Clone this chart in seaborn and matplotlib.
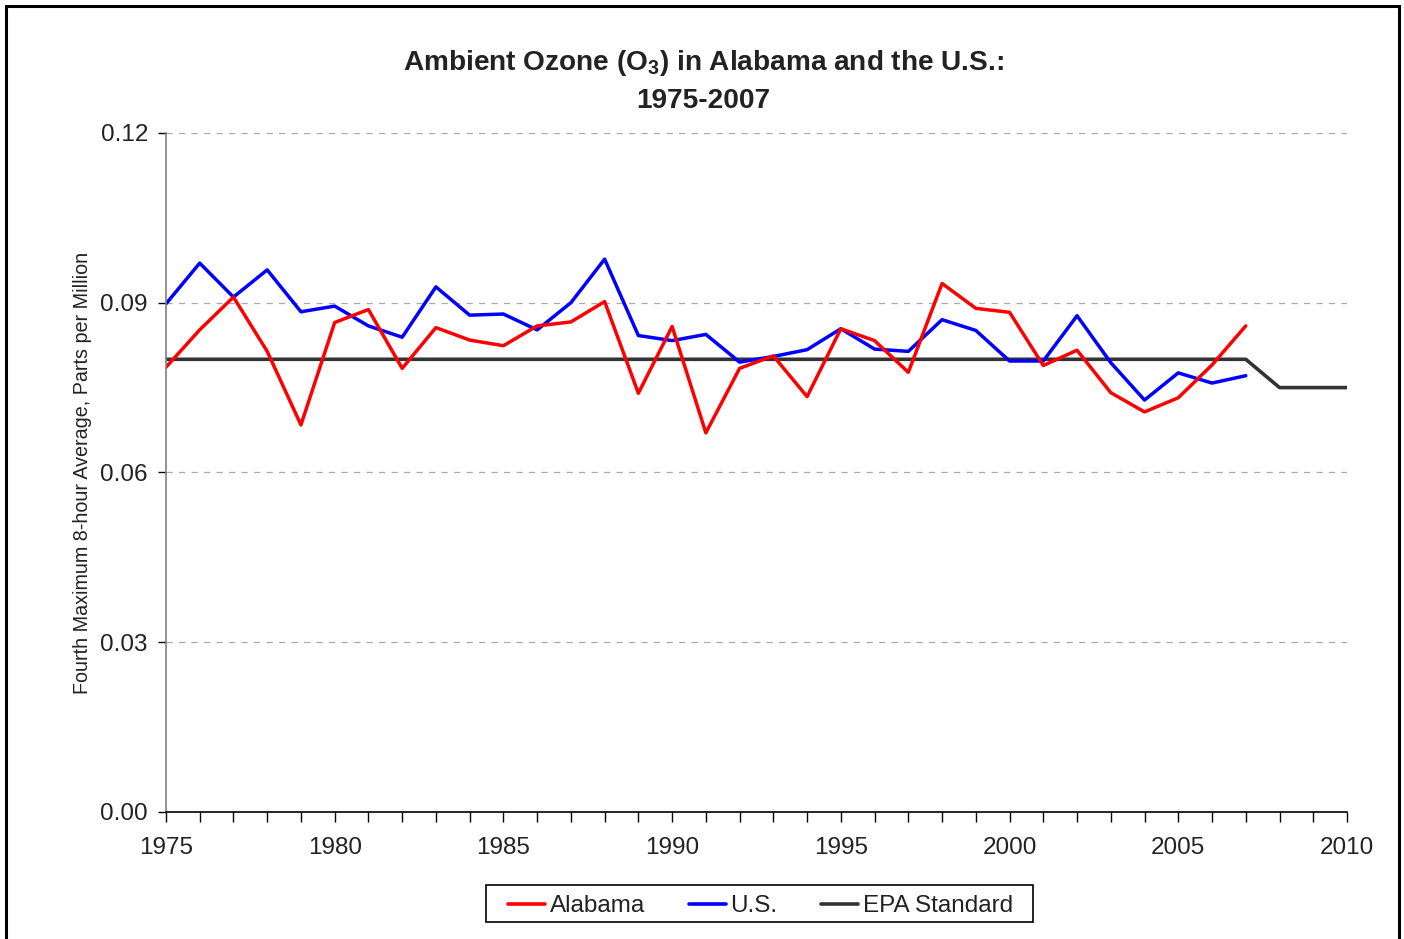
import numpy as np
import pandas as pd
import matplotlib
matplotlib.use("Agg")
import matplotlib.pyplot as plt
import matplotlib.ticker as mticker
from matplotlib.lines import Line2D
from matplotlib.patches import Rectangle
import seaborn as sns

years = list(range(1975, 2008))
alabama = [0.0786, 0.0852, 0.0910, 0.0814, 0.0684, 0.0865, 0.0888, 0.0784, 0.0856,
           0.0834, 0.0824, 0.0859, 0.0866, 0.0902, 0.0740, 0.0858, 0.0670, 0.0784,
           0.0806, 0.0734, 0.0854, 0.0833, 0.0777, 0.0934, 0.0890, 0.0883, 0.0789,
           0.0816, 0.0741, 0.0707, 0.0732, 0.0790, 0.0859]
us = [0.0898, 0.0970, 0.0910, 0.0958, 0.0884, 0.0894, 0.0859, 0.0839, 0.0928,
      0.0878, 0.0880, 0.0852, 0.0900, 0.0977, 0.0842, 0.0833, 0.0844, 0.0795,
      0.0805, 0.0817, 0.0854, 0.0818, 0.0814, 0.0870, 0.0851, 0.0797, 0.0797,
      0.0877, 0.0794, 0.0728, 0.0776, 0.0758, 0.0771]
epa_years = list(range(1975, 2011))
epa = [0.080] * 33 + [0.075] * 3

series_names = ["Alabama", "U.S.", "EPA Standard"]
colors = ["#FF0000", "#0000FF", "#333333"]

df = pd.concat([
    pd.DataFrame({"year": years, "ppm": alabama, "series": "Alabama"}),
    pd.DataFrame({"year": years, "ppm": us, "series": "U.S."}),
    pd.DataFrame({"year": epa_years, "ppm": epa, "series": "EPA Standard"}),
])

sns.set_style("white")
plt.rcParams["font.family"] = ["Liberation Sans", "DejaVu Sans"]
plt.rcParams["mathtext.fontset"] = "custom"
plt.rcParams["mathtext.rm"] = "Liberation Sans:bold"
plt.rcParams["mathtext.it"] = "Liberation Sans:bold"

fig = plt.figure(figsize=(14.04, 9.39), dpi=100)
ax = fig.add_axes([0.1182, 0.1353, 0.8412, 0.7231])

# outer frame
fig.patches.append(Rectangle((6 / 1404, -0.01), 1393 / 1404, 1 - 6 / 939 + 0.01,
                             transform=fig.transFigure, fill=False,
                             edgecolor="black", linewidth=2.2))

# draw EPA first so data lines sit on top
sns.lineplot(data=df[df["series"] == "EPA Standard"], x="year", y="ppm",
             color=colors[2], linewidth=2.6, ax=ax, legend=False)
sns.lineplot(data=df[df["series"] == "U.S."], x="year", y="ppm",
             color=colors[1], linewidth=2.5, ax=ax, legend=False)
sns.lineplot(data=df[df["series"] == "Alabama"], x="year", y="ppm",
             color=colors[0], linewidth=2.5, ax=ax, legend=False)

ax.set_xlim(1975, 2010)
ax.set_ylim(0, 0.12)
ax.yaxis.set_major_locator(mticker.MultipleLocator(0.03))
ax.yaxis.set_major_formatter(mticker.FormatStrFormatter("%.2f"))
ax.xaxis.set_major_locator(mticker.MultipleLocator(5))
ax.xaxis.set_minor_locator(mticker.MultipleLocator(1))

ax.grid(axis="y", color="#AAAAAA", linestyle=(0, (5, 5)), linewidth=0.9)
ax.grid(axis="x", visible=False)
ax.set_axisbelow(True)

for side in ["top", "right"]:
    ax.spines[side].set_visible(False)
ax.spines["left"].set_color("#808080")
ax.spines["left"].set_linewidth(1.2)
ax.spines["bottom"].set_color("black")
ax.spines["bottom"].set_linewidth(1.2)

ax.tick_params(axis="x", which="both", direction="out", length=7, width=1,
               color="black", bottom=True, labelsize=17.5, pad=11, labelcolor="#222222")
ax.tick_params(axis="y", which="major", direction="out", length=6, width=1,
               color="black", left=True, labelsize=17.5, pad=7, labelcolor="#222222")

ax.set_xlabel("")
ax.set_ylabel("Fourth Maximum 8-hour Average, Parts per Million",
              fontsize=14.2, color="#222222", labelpad=6)

fig.text(0.5007, 0.9325, "Ambient Ozone (O$_3$) in Alabama and the U.S.:",
         ha="center", va="center", fontsize=20.2, fontweight="bold", color="#222222")
fig.text(0.5007, 0.8925, "1975-2007",
         ha="center", va="center", fontsize=20.2, fontweight="bold", color="#222222")

# legend box drawn separately so its padding matches the original
fig.patches.append(Rectangle((486 / 1404, 1 - 922 / 939), 547 / 1404, 37 / 939,
                             transform=fig.transFigure, fill=False,
                             edgecolor="black", linewidth=1.2))
handles = [Line2D([0], [0], color=c, linewidth=2.6) for c in colors]
leg = fig.legend(handles, series_names, loc="center", bbox_to_anchor=(0.5417, 0.0350),
                 ncol=3, frameon=False, fontsize=17.5,
                 handlelength=1.52, handletextpad=0.2, columnspacing=1.8,
                 borderpad=0.3)
for t in leg.get_texts():
    t.set_color("#222222")

fig.savefig("out.png", dpi=100)
